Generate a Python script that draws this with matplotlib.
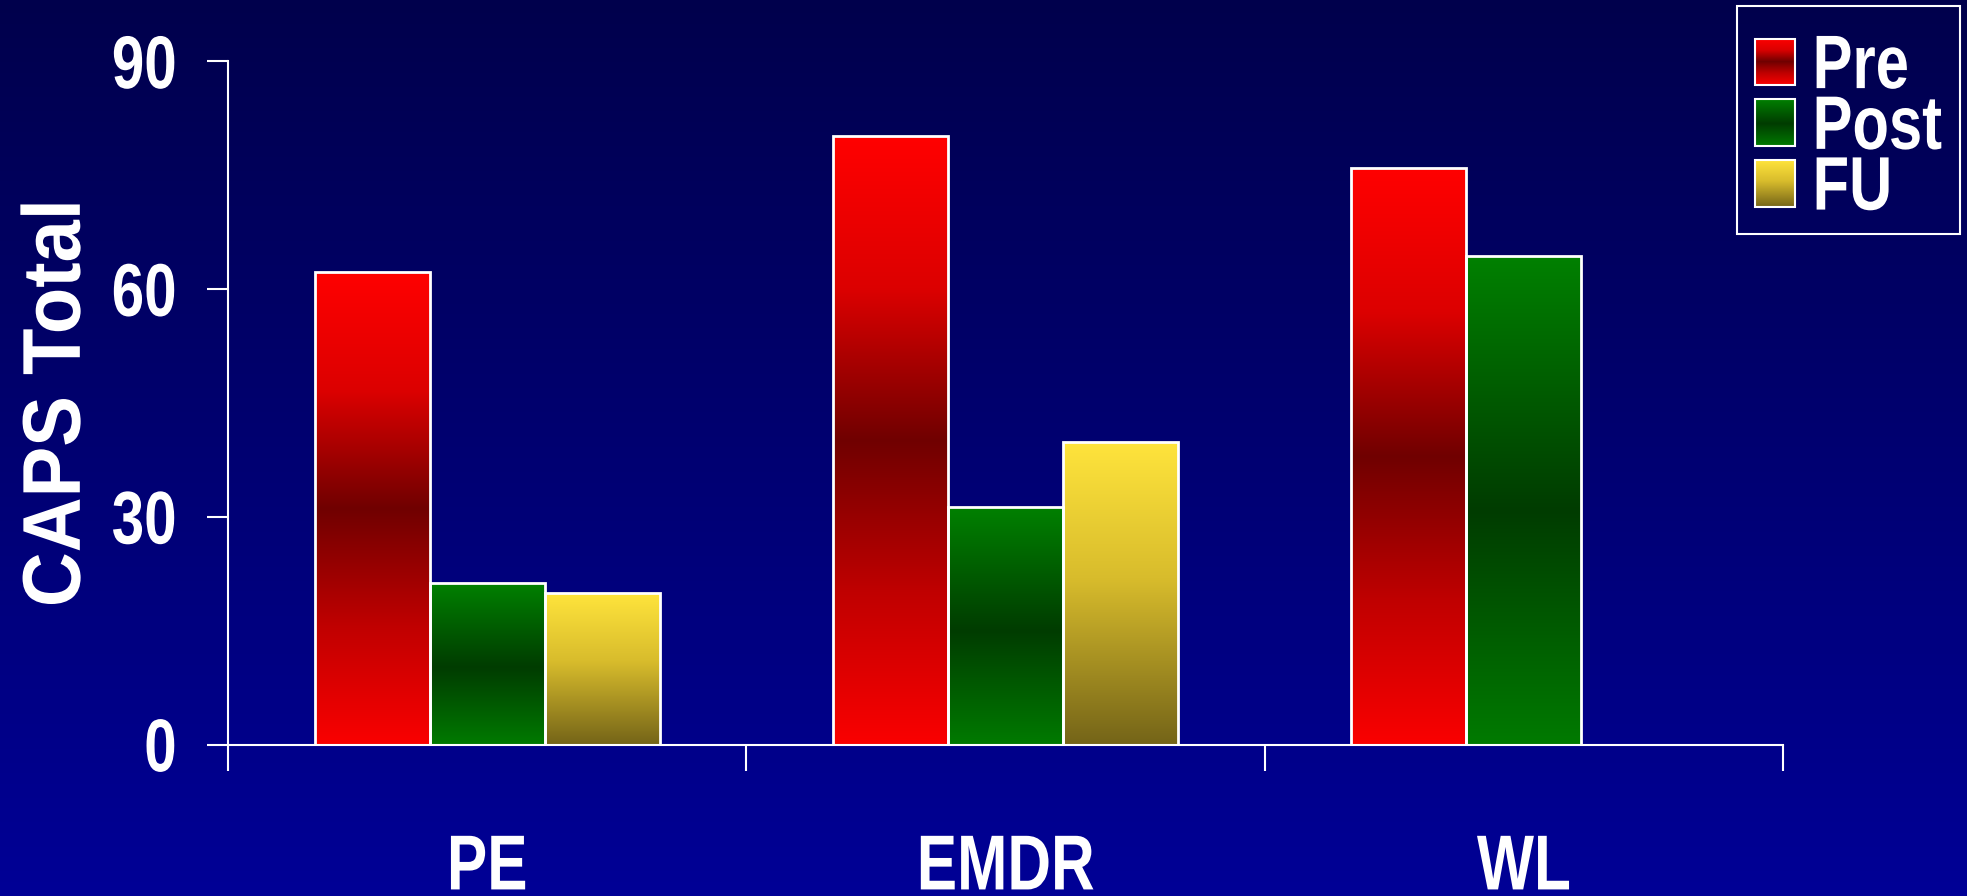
"""CAPS Total scores by treatment group, pre / post / follow-up."""

import matplotlib
matplotlib.use("Agg")
import matplotlib.pyplot as plt
import numpy as np
from matplotlib.colors import LinearSegmentedColormap
from matplotlib.image import BboxImage
from matplotlib.legend_handler import HandlerBase
from matplotlib.patches import Rectangle
from matplotlib.patheffects import AbstractPathEffect
from matplotlib.transforms import Affine2D, Bbox, TransformedBbox

groups = ["PE", "EMDR", "WL"]
series = ["Pre", "Post", "FU"]
pre = [62.3, 80.2, 75.9]
post = [21.3, 31.3, 64.4]
fu = [20.0, 39.8, np.nan]  # no follow-up for the wait list
yticks = [0, 30, 60, 90]

plt.rcParams["font.family"] = ["Liberation Sans", "DejaVu Sans"]
plt.rcParams["font.weight"] = "bold"


class Stretch(AbstractPathEffect):
    """Stretch glyphs across the reading direction to get a condensed look."""

    def __init__(self, sy):
        super().__init__()
        self.sy = sy

    def draw_path(self, renderer, gc, tpath, affine, rgbFace=None):
        v = tpath.vertices
        cy = (v[:, 1].min() + v[:, 1].max()) / 2
        local = Affine2D().translate(0, -cy).scale(1, self.sy).translate(0, cy)
        renderer.draw_path(gc, tpath, local + affine, rgbFace)


# top -> bottom colour ramps for each series
cmaps = [
    LinearSegmentedColormap.from_list(
        "pre", [(0, "#ff0000"), (0.25, "#dc0000"), (0.5, "#700000"), (0.75, "#c00000"), (1, "#fa0000")]),
    LinearSegmentedColormap.from_list(
        "post", [(0, "#008000"), (0.52, "#003c00"), (1, "#007a00")]),
    LinearSegmentedColormap.from_list(
        "fu", [(0, "#ffe43c"), (0.45, "#d8bc2c"), (1, "#746418")]),
]
ramp = np.linspace(0, 1, 256)[:, None]


class GradientHandler(HandlerBase):
    """Legend key drawn as a small gradient swatch."""

    def __init__(self, cmap):
        super().__init__()
        self.cmap = cmap

    def create_artists(self, legend, orig_handle, xdescent, ydescent,
                       width, height, fontsize, trans):
        box = TransformedBbox(Bbox.from_bounds(-xdescent, -ydescent, width, height), trans)
        img = BboxImage(box, cmap=self.cmap, interpolation="bilinear")
        img.set_data(ramp)
        edge = Rectangle((-xdescent, -ydescent), width, height, facecolor="none",
                         edgecolor="white", linewidth=1.5, transform=trans)
        return [img, edge]


fig = plt.figure(figsize=(19.67, 8.96), dpi=100)

# navy background fading lighter toward the bottom
bg = fig.add_axes([0, 0, 1, 1], zorder=-10)
bg_cmap = LinearSegmentedColormap.from_list("bg", ["#00004c", "#000096"])
bg.imshow(ramp, cmap=bg_cmap, aspect="auto", extent=(0, 1, 0, 1))
bg.axis("off")

ax = fig.add_axes([0.1159, 0.169, 0.7906, 0.7624])
ax.set_facecolor("none")

x = np.arange(len(groups))
width = 0.222
for j, values in enumerate([pre, post, fu]):
    vals = np.array(values, dtype=float)
    ok = ~np.isnan(vals)
    bars = ax.bar(x[ok] + (j - 1) * width, vals[ok], width, facecolor="none",
                  edgecolor="white", linewidth=2, zorder=3)
    for bar in bars:
        x0 = bar.get_x()
        ax.imshow(ramp, cmap=cmaps[j], aspect="auto", interpolation="bilinear",
                  extent=(x0, x0 + bar.get_width(), 0, bar.get_height()), zorder=2)

ax.set_xlim(-0.5, len(groups) - 0.5)
ax.set_ylim(0, 90)

for side in ["top", "right"]:
    ax.spines[side].set_visible(False)
for side in ["left", "bottom"]:
    ax.spines[side].set_color("white")
    ax.spines[side].set_linewidth(1.5)

ax.set_yticks(yticks)
ax.tick_params(axis="y", colors="white", length=15, width=1.5, pad=22, labelsize=42)
ax.set_xticks(np.arange(len(groups) + 1) - 0.5)
ax.set_xticklabels([])
ax.tick_params(axis="x", which="major", colors="white", length=19, width=1.5)
ax.set_xticks(x, minor=True)
ax.set_xticklabels(groups, minor=True)
ax.tick_params(axis="x", which="minor", length=0, pad=69, labelsize=43.5, labelcolor="white")

for lab in ax.get_yticklabels():
    lab.set_path_effects([Stretch(1.28)])
for lab in ax.get_xticklabels(minor=True):
    lab.set_path_effects([Stretch(1.29)])

ylab = ax.set_ylabel("CAPS Total", color="white", fontsize=54.7, fontweight="bold", labelpad=13)
ylab.set_path_effects([Stretch(1.08)])

# a blank, tiny title gives the legend a little extra room above the keys
handles = [Rectangle((0, 0), 1, 1) for _ in series]
leg = fig.legend(handles, series,
                 handler_map={h: GradientHandler(c) for h, c in zip(handles, cmaps)},
                 loc="upper right", bbox_to_anchor=(0.9964, 0.9933), borderaxespad=0,
                 fontsize=43, labelcolor="white", fancybox=False, framealpha=1,
                 facecolor="none", edgecolor="white", handlelength=0.67, handleheight=0.82,
                 handletextpad=0.3, labelspacing=0.08, borderpad=0.3,
                 title=" ", title_fontsize=8)
leg.get_frame().set_linewidth(1.5)
for t in leg.get_texts():
    t.set_path_effects([Stretch(1.27)])

fig.savefig("out.png", dpi=100)
